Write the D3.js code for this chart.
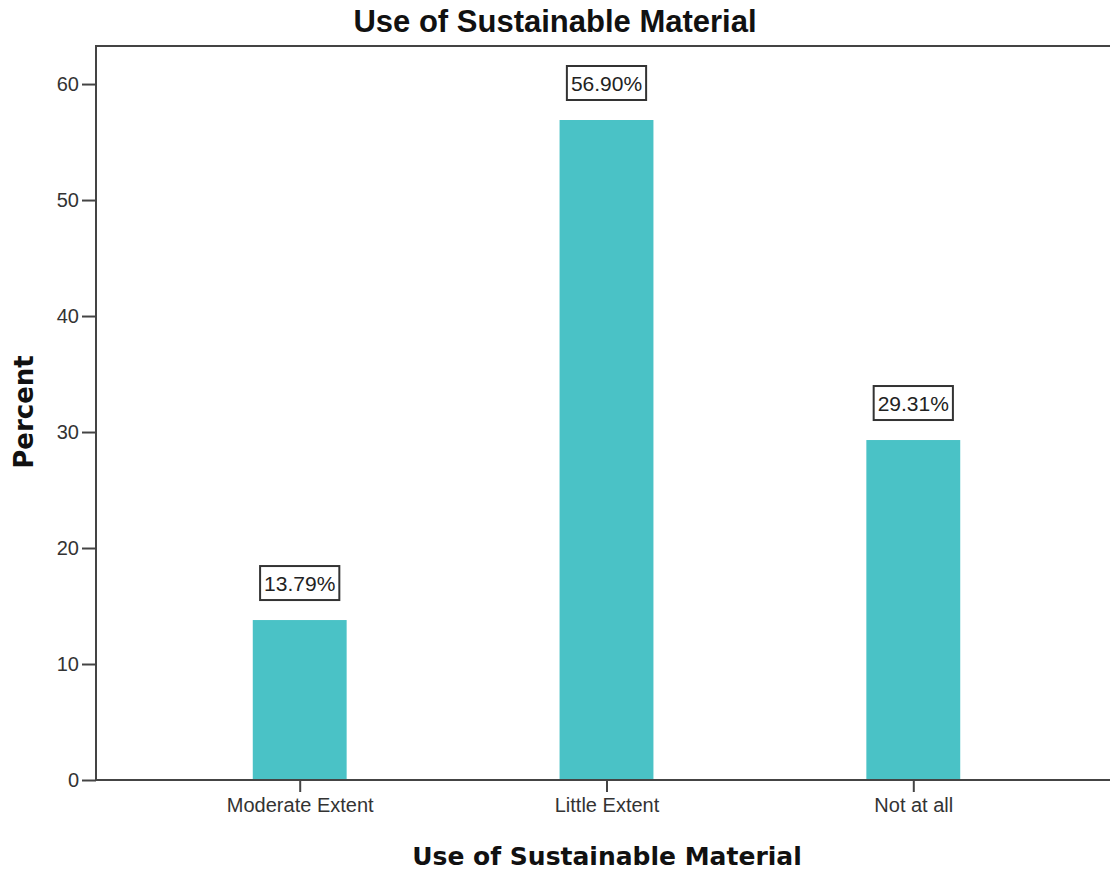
<!DOCTYPE html>
<html>
<head>
<meta charset="utf-8">
<script src="https://cdn.jsdelivr.net/npm/d3@7"></script>
<style>
  body { margin: 0; background: #fff; }
  svg { display: block; }
</style>
</head>
<body>
<div id="chart"></div>
<script>
// 資料
const categories = ["Moderate Extent", "Little Extent", "Not at all"];
const percents = [13.79, 56.90, 29.31];
const yTicks = [0, 10, 20, 30, 40, 50, 60];

const W = 1110, H = 871;
const margin = { top: 46, right: -7, bottom: 91, left: 96 };
const width = W - margin.left - margin.right;
const height = H - margin.top - margin.bottom;

const svg = d3.select("#chart").append("svg")
  .attr("width", W).attr("height", H);

const g = svg.append("g")
  .attr("transform", `translate(${margin.left},${margin.top})`);

const x = d3.scalePoint()
  .domain(categories)
  .range([0, width])
  .padding(0.664);

const y = d3.scaleLinear()
  .domain([0, 63.28])
  .range([height, 0]);

const barW = x.step() * 0.306;
const axisColor = "#444";
const tickFont = "Liberation Sans, Arial, sans-serif";

// 長條
g.selectAll("rect.bar")
  .data(categories)
  .enter().append("rect")
  .attr("class", "bar")
  .attr("x", d => x(d) - barW / 2)
  .attr("y", (d, i) => y(percents[i]))
  .attr("width", barW)
  .attr("height", (d, i) => height - y(percents[i]))
  .attr("fill", "#4ac2c6");

// 座標框 (上、左、下)
g.append("path")
  .attr("d", `M0,${height}V0H${width}`)
  .attr("fill", "none")
  .attr("stroke", axisColor)
  .attr("stroke-width", 2);

const yAxis = g.append("g")
  .call(d3.axisLeft(y).tickValues(yTicks).tickSize(14).tickPadding(3));
yAxis.select(".domain").remove();
yAxis.selectAll("line").attr("stroke", axisColor).attr("stroke-width", 2);
yAxis.selectAll("text")
  .attr("font-family", tickFont)
  .attr("font-size", 20).attr("fill", "#333");

const xAxis = g.append("g")
  .attr("transform", `translate(0,${height})`)
  .call(d3.axisBottom(x).tickSize(12).tickPadding(6));
xAxis.select(".domain")
  .attr("stroke", axisColor).attr("stroke-width", 2)
  .attr("d", `M0,0H${width}`);
xAxis.selectAll("line").attr("stroke", axisColor).attr("stroke-width", 2);
xAxis.selectAll("text")
  .attr("font-family", tickFont)
  .attr("font-size", 20).attr("fill", "#333");

// 數值標籤 (外框)
const labels = g.selectAll("g.lbl")
  .data(categories)
  .enter().append("g")
  .attr("class", "lbl")
  .attr("transform", (d, i) => `translate(${x(d)},${y(percents[i]) - 37})`);

labels.append("text")
  .attr("text-anchor", "middle")
  .attr("dy", "0.36em")
  .attr("font-family", tickFont)
  .attr("font-size", 21)
  .attr("fill", "#222")
  .text((d, i) => percents[i].toFixed(2) + "%");

labels.each(function() {
  const t = d3.select(this).select("text").node().getBBox();
  d3.select(this).insert("rect", "text")
    .attr("x", t.x - 4).attr("y", -17)
    .attr("width", t.width + 8).attr("height", 34)
    .attr("fill", "#fff")
    .attr("stroke", "#333").attr("stroke-width", 2);
});

// 標題
svg.append("text")
  .attr("x", 555).attr("y", 32)
  .attr("text-anchor", "middle")
  .attr("font-family", "Liberation Sans, Arial, sans-serif")
  .attr("font-weight", "bold")
  .attr("font-size", 31)
  .attr("fill", "#111")
  .text("Use of Sustainable Material");

svg.append("text")
  .attr("x", 607).attr("y", 865)
  .attr("text-anchor", "middle")
  .attr("font-family", "DejaVu Sans, sans-serif")
  .attr("font-weight", "bold")
  .attr("font-size", 25)
  .attr("fill", "#111")
  .text("Use of Sustainable Material");

svg.append("text")
  .attr("transform", "translate(33,412) rotate(-90)")
  .attr("text-anchor", "middle")
  .attr("font-family", "DejaVu Sans, sans-serif")
  .attr("font-weight", "bold")
  .attr("font-size", 26)
  .attr("fill", "#111")
  .text("Percent");
</script>
</body>
</html>
